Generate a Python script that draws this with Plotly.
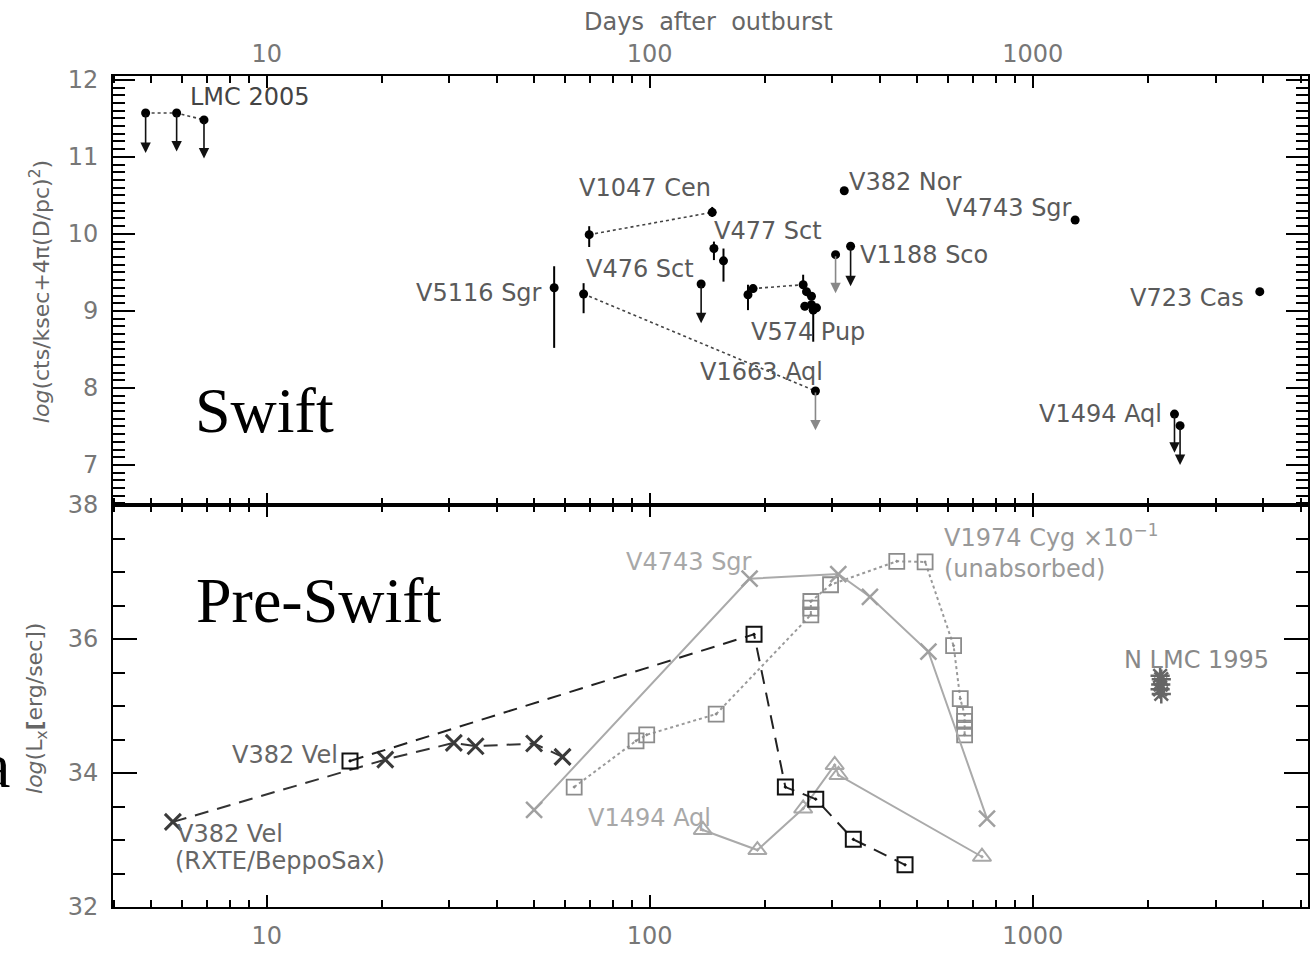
import math
import plotly.graph_objects as go

# ---------------- Swift panel data ----------------
det_days = [56.3, 67.2, 69.5, 145.6, 147.1, 155.8, 180.5, 186.1, 251.5, 256.6,
            264.4, 254.0, 264.4, 272.5, 267.2, 322.0, 1290.0, 3914.0]
det_vals = [9.30, 9.22, 9.99, 10.28, 9.81, 9.65, 9.21, 9.29, 9.34, 9.25,
            9.19, 9.06, 9.08, 9.04, 9.01, 10.56, 10.18, 9.25]
det_err_plus = [0.28, 0.14, 0.11, 0.07, 0.09, 0.16, 0.13, 0.05, 0.13, 0.05,
                0.05, 0.05, 0.05, 0.05, 0.05, 0.0, 0.0, 0.0]
det_err_minus = [0.78, 0.25, 0.16, 0.06, 0.15, 0.27, 0.20, 0.05, 0.05, 0.05,
                 0.05, 0.05, 0.05, 0.05, 0.41, 0.0, 0.0, 0.0]

lim_days = [4.83, 5.82, 6.86, 136.2, 270.8, 305.6, 334.5, 2344.0, 2424.0]
lim_vals = [11.57, 11.57, 11.48, 9.35, 7.96, 9.73, 9.84, 7.66, 7.51]
lim_arrow_to = [11.05, 11.07, 10.98, 8.84, 7.45, 9.23, 9.32, 7.16, 7.00]

lmc2005_days = [4.83, 5.82, 6.86]
lmc2005_vals = [11.57, 11.57, 11.48]
v1047cen_days = [69.5, 145.6]
v1047cen_vals = [9.99, 10.28]
v476sct_days = [67.2, 270.8]
v476sct_vals = [9.22, 7.96]
v574pup_days = [186.1, 251.5]
v574pup_vals = [9.29, 9.34]

# ---------------- Pre-Swift panel data ----------------
v382vel_x_days = [5.69, 20.4, 30.8, 35.1, 49.9, 59.2]
v382vel_x_vals = [33.27, 34.20, 34.45, 34.40, 34.44, 34.24]
v382vel_sq_days = [16.5, 187.2, 226.0, 271.3, 340.0, 464.0]
v382vel_sq_vals = [34.18, 36.07, 33.79, 33.61, 33.01, 32.63]
v4743sgr_days = [49.9, 182.3, 310.6, 375.7, 534.0, 759.4]
v4743sgr_vals = [33.45, 36.90, 36.97, 36.63, 35.81, 33.32]
v1494aql_days = [137.6, 191.0, 251.5, 304.0, 311.0, 736.8]
v1494aql_vals = [33.15, 32.85, 33.47, 34.12, 33.97, 32.75]
v1974cyg_days = [63.5, 92.1, 98.2, 149.1, 263.4, 263.4, 263.4, 296.5, 441.5,
                 523.5, 621.3, 646.6, 663.8, 663.8, 663.8, 663.8]
v1974cyg_vals = [33.79, 34.48, 34.57, 34.88, 36.36, 36.46, 36.56, 36.81, 37.16,
                 37.15, 35.90, 35.11, 34.87, 34.77, 34.67, 34.57]
nlmc1995_days = [2150.0, 2165.0, 2158.0, 2150.0, 2165.0]
nlmc1995_vals = [35.45, 35.40, 35.32, 35.25, 35.18]

x_ticks = [10, 100, 1000]
x_ticktext = ["10", "100", "1000"]

# ---------------- figure ----------------
FONT = "DejaVu Sans"
LBL = "#5a5a5a"
LIGHT = "#a8a8a8"

fig = go.Figure()

# top panel: dotted connectors
for dx, dy in [(lmc2005_days, lmc2005_vals), (v1047cen_days, v1047cen_vals),
               (v476sct_days, v476sct_vals), (v574pup_days, v574pup_vals)]:
    fig.add_trace(go.Scatter(x=dx, y=dy, mode="lines", xaxis="x2", yaxis="y2",
                             line=dict(color="#444", width=1.6, dash="dot"),
                             hoverinfo="skip"))

# detections with error bars
fig.add_trace(go.Scatter(
    x=det_days, y=det_vals, mode="markers", xaxis="x2", yaxis="y2",
    marker=dict(color="black", size=9, symbol="circle"),
    error_y=dict(type="data", symmetric=False, array=det_err_plus,
                 arrayminus=det_err_minus, color="black", thickness=2, width=0)))

# upper limit points
fig.add_trace(go.Scatter(
    x=lim_days, y=lim_vals, mode="markers", xaxis="x2", yaxis="y2",
    marker=dict(color="black", size=9, symbol="circle")))

annotations = []
gray_arrows = {4, 5}
for i, (d, v, t) in enumerate(zip(lim_days, lim_vals, lim_arrow_to)):
    annotations.append(dict(
        x=math.log10(d), y=t, ax=math.log10(d), ay=v,
        xref="x2", yref="y2", axref="x2", ayref="y2",
        text="", showarrow=True, arrowhead=2, arrowsize=1.3, arrowwidth=1.6,
        arrowcolor="#888" if i in gray_arrows else "#111", standoff=0, startstandoff=0))

# bottom panel
fig.add_trace(go.Scatter(
    x=v1974cyg_days, y=v1974cyg_vals, mode="lines+markers", xaxis="x", yaxis="y",
    line=dict(color="#9a9a9a", width=2, dash="dot"),
    marker=dict(symbol="square-open-dot", size=15, color="#8c8c8c",
                line=dict(width=1.8, color="#8c8c8c"))))
fig.add_trace(go.Scatter(
    x=v4743sgr_days, y=v4743sgr_vals, mode="lines+markers", xaxis="x", yaxis="y",
    line=dict(color="#aaaaaa", width=2),
    marker=dict(symbol="x-thin-open", size=16, color="#a0a0a0",
                line=dict(width=2.5, color="#a0a0a0"))))
fig.add_trace(go.Scatter(
    x=v1494aql_days, y=v1494aql_vals, mode="lines+markers", xaxis="x", yaxis="y",
    line=dict(color="#aaaaaa", width=2),
    marker=dict(symbol="triangle-up-open-dot", size=16, color="#a8a8a8",
                line=dict(width=2, color="#a8a8a8"))))
fig.add_trace(go.Scatter(
    x=v382vel_x_days, y=v382vel_x_vals, mode="lines+markers", xaxis="x", yaxis="y",
    line=dict(color="#333", width=2, dash="14px,9px"),
    marker=dict(symbol="x-thin-open", size=16, color="#3a3a3a",
                line=dict(width=3, color="#3a3a3a"))))
fig.add_trace(go.Scatter(
    x=v382vel_sq_days, y=v382vel_sq_vals, mode="lines+markers", xaxis="x", yaxis="y",
    line=dict(color="#222", width=2, dash="14px,9px"),
    marker=dict(symbol="square-open-dot", size=15, color="#111",
                line=dict(width=2, color="#111"))))
fig.add_trace(go.Scatter(
    x=nlmc1995_days, y=nlmc1995_vals, mode="markers", xaxis="x", yaxis="y",
    marker=dict(symbol="asterisk-open", size=16, color="#666",
                line=dict(width=2.5, color="#666"))))


def lab(text, d, v, panel, color=LBL, anchor="left", size=24):
    annotations.append(dict(
        x=math.log10(d), y=v, xref="x2" if panel == "top" else "x",
        yref="y2" if panel == "top" else "y", text=text, showarrow=False,
        xanchor=anchor, yanchor="middle", align="left",
        font=dict(family=FONT, size=size, color=color)))


# labels, top panel
lab("LMC 2005", 6.22, 11.78, "top", "#444")
lab("V1047 Cen", 64.6, 10.60, "top")
lab("V382 Nor", 326.6, 10.67, "top")
lab("V4743 Sgr", 588.0, 10.34, "top")
lab("V477 Sct", 145.6, 10.04, "top")
lab("V1188 Sco", 348.8, 9.73, "top")
lab("V476 Sct", 67.4, 9.545, "top")
lab("V5116 Sgr", 53.0, 9.23, "top", anchor="right")
lab("V574 Pup", 182.0, 8.73, "top")
lab("V1663 Aql", 133.6, 8.21, "top")
lab("V723 Cas", 1774.0, 9.17, "top")
lab("V1494 Aql", 1026.0, 7.66, "top")

# labels, bottom panel
lab("V382 Vel", 8.02, 34.27, "bot", "#666")
lab("V382 Vel", 5.75, 33.09, "bot", "#666")
lab("(RXTE/BeppoSax)", 5.69, 32.69, "bot", "#666")
lab("V4743 Sgr", 85.8, 37.15, "bot", LIGHT)
lab("V1494 Aql", 68.1, 33.33, "bot", LIGHT)
lab("V1974 Cyg \u00d710<sup>\u22121</sup><br>(unabsorbed)", 578.9, 37.30, "bot", "#999")
lab("N LMC 1995", 1713.0, 35.69, "bot", "#888")


def ptext(text, x, y, font, angle=0, xanchor="center"):
    annotations.append(dict(x=x, y=y, xref="paper", yref="paper", text=text,
                            showarrow=False, xanchor=xanchor, yanchor="middle",
                            textangle=angle, font=font))


serif = dict(family="Liberation Serif", size=64, color="black")
ptext("Swift", 0.127, 0.598, serif)
ptext("Pre-Swift", 0.1728, 0.369, serif)
ptext("a", -0.0845, 0.170, serif, xanchor="right")
ptext("Days\u00a0\u00a0after\u00a0\u00a0outburst", 0.4987, 1.065,
      dict(family=FONT, size=24, color="#666"))
ptext("<i>log</i>(cts/ksec+4\u03c0(D/pc)<sup>2</sup>)", -0.061, 0.740,
      dict(family=FONT, size=22, color="#666"), angle=-90)
ptext("<i>log</i>(L<sub>x</sub><b>[</b>erg/sec])", -0.0636, 0.2395,
      dict(family=FONT, size=22, color="#666"), angle=-90)

xr = [math.log10(3.97), math.log10(5230)]
split = 402 / 831
tickfont = dict(family=FONT, size=24, color="#777")

xcommon = dict(type="log", range=xr, tickvals=x_ticks, ticktext=x_ticktext,
               ticks="inside", ticklen=12, tickwidth=2, tickcolor="black",
               showline=True, linewidth=2, linecolor="black", mirror="ticks",
               showgrid=False, zeroline=False, tickfont=tickfont, automargin=False,
               minor=dict(ticks="inside", ticklen=7, tickwidth=1.5,
                          tickcolor="black", dtick="D1", showgrid=False))
ycommon = dict(ticks="inside", tickwidth=2, tickcolor="black", tick0=0,
               showline=True, linewidth=2, linecolor="black", mirror="ticks",
               showgrid=False, zeroline=False, tickfont=tickfont, automargin=False,
               ticklabelstandoff=8)

fig.update_layout(
    width=1310, height=956,
    margin=dict(l=113, r=2, t=76, b=49, autoexpand=False),
    paper_bgcolor="white", plot_bgcolor="white",
    showlegend=False,
    xaxis=dict(domain=[0, 1], anchor="y", side="bottom", ticklabelstandoff=6, **xcommon),
    xaxis2=dict(domain=[0, 1], anchor="y2", side="top", matches="x",
                ticklabelstandoff=2, **xcommon),
    yaxis=dict(domain=[0, split], anchor="x", range=[32, 38], dtick=2, ticklen=24,
               minor=dict(ticks="inside", ticklen=12, tickwidth=1.5,
                          tickcolor="black", dtick=0.5, showgrid=False),
               **ycommon),
    yaxis2=dict(domain=[split, 1], anchor="x2", range=[6.48, 12.05], dtick=1, ticklen=22,
                minor=dict(ticks="inside", ticklen=12, tickwidth=1.5,
                           tickcolor="black", dtick=0.1, showgrid=False),
                **ycommon),
    annotations=annotations,
)

fig.write_html(
    "out.html",
    config={"displayModeBar": False},
    post_script="document.body.style.margin='0px';document.body.style.overflow='hidden';",
)
